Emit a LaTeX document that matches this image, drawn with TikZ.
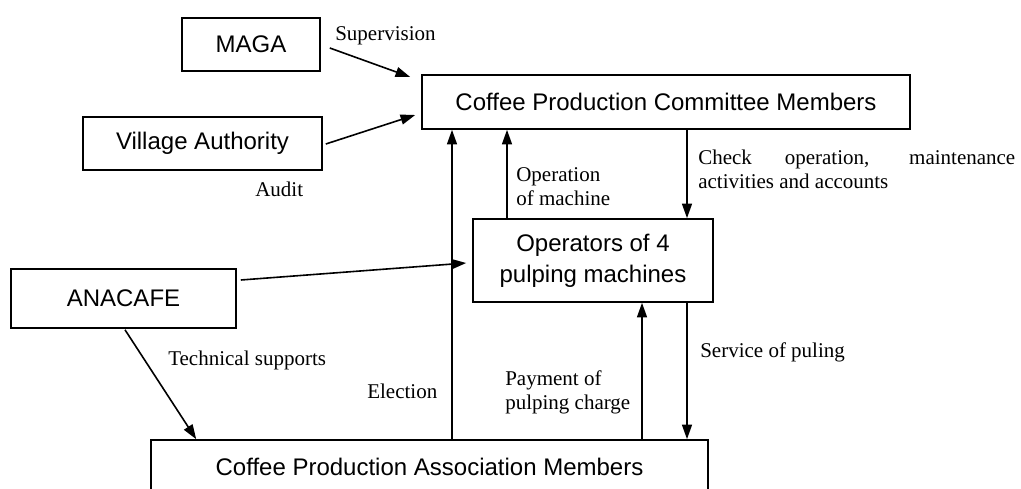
\documentclass[tikz,border=0pt]{standalone}
\usepackage{fontspec}
\setmainfont{Liberation Serif}
\newfontfamily\boxfont{Liberation Sans}
\usetikzlibrary{arrows.meta,positioning}

\begin{document}
\begin{tikzpicture}[x=0.75pt,y=-0.75pt,
  box/.style={draw, line width=1.2pt, font=\boxfont\fontsize{18}{23}\selectfont, align=center, inner sep=0pt},
  lbl/.style={font=\fontsize{15.75}{18}\selectfont, inner sep=0pt, anchor=base west, align=left},
  arr/.style={line width=1.2pt, -{Triangle[length=11pt,width=7.5pt]}}]
  \useasboundingbox (0,0) rectangle (1021,489);
  % boxes
  \node[box, minimum width=366pt, minimum height=40.5pt] (comm) at (666,102) {Coffee Production Committee Members};
  \node[box, minimum width=103.5pt, minimum height=39.75pt] (maga) at (251,44.5) {MAGA};
  \node[box, minimum width=179.25pt, minimum height=39.75pt] (village) at (202.5,143.5) {Village Authority};
  \node[box, minimum width=180pt, minimum height=62.25pt] (ops) at (593,260.5) {Operators of 4\\pulping machines};
  \node[box, minimum width=168.75pt, minimum height=44.25pt] (anacafe) at (123.5,298.5) {ANACAFE};
  \node[box, minimum width=417.75pt, minimum height=40.5pt] (assoc) at (429.5,467) {Coffee Production Association Members};
  % connectors
  \draw[arr] ([shift={(9,3.5)}]maga.east) -- ([shift={(-11,-25)}]comm.west);
  \draw[arr] ([shift={(3,0.5)}]village.east) -- ([shift={(-6,13)}]comm.west);
  \draw[arr] ([shift={(4,-18.5)}]anacafe.east) -- ([shift={(-6,2.5)}]ops.west);
  \draw[arr] ([shift={(1.5,1)}]anacafe.south) -- ([xshift=34.5pt]assoc.north west);
  \draw[arr] (assoc.north -| 452,0) -- (comm.south -| 452,0);
  \draw[arr] (ops.north -| 507,0) -- (comm.south -| 507,0);
  \draw[arr] (comm.south -| 687,0) -- (ops.north -| 687,0);
  \draw[arr] (assoc.north -| 642,0) -- (ops.south -| 642,0);
  \draw[arr] (ops.south -| 687,0) -- (assoc.north -| 687,0);
  % labels (multi-line ones sit on their last baseline)
  \node[lbl] (sup) at (335,40) {Supervision};
  \node[lbl] (aud) at (255,196) {Audit};
  \node[lbl] (opm) at (516,205) {Operation\\of machine};
  \node[lbl] (chk) at (698,188) {\makebox[237.75pt][s]{Check operation, maintenance}\\activities and accounts};
  \node[lbl] (tec) at (168,365.5) {Technical supports};
  \node[lbl] (ele) at (367,398) {Election};
  \node[lbl] (pay) at (505,409.5) {Payment of\\pulping charge};
  \node[lbl] (srv) at (700,357) {Service of puling};
\end{tikzpicture}
\end{document}
